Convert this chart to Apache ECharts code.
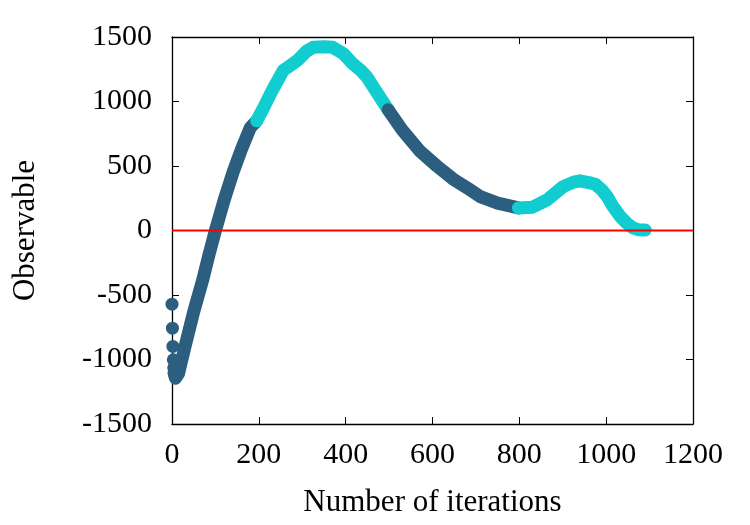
<!DOCTYPE html>
<html>
<head>
<meta charset="utf-8">
<script src="https://cdn.jsdelivr.net/npm/echarts@6/dist/echarts.min.js"></script>
<style>
html, body { margin: 0; padding: 0; background: #fff; }
#chart { width: 750px; height: 525px; }
</style>
</head>
<body>
<div id="chart"></div>
<script>
// first iterations, plotted as separate dots
const startDots = [[0, -571], [1, -757], [2, -899], [3, -1002], [4, -1064], [5, -1105]];
// dark stretch 1
const darkA = [[5, -1110], [8, -1145], [15, -1110], [30, -900], [50, -630], [71, -380], [85, -190], [100, 0],
  [120, 235], [140, 445], [160, 630], [180, 795], [195, 850]];
// cyan stretch 1
const cyanA = [[195, 850], [210, 945], [230, 1080], [256, 1240], [275, 1285], [290, 1322], [310, 1390], [325, 1420],
  [350, 1425], [370, 1420], [395, 1370], [417, 1290], [435, 1240], [449, 1190], [470, 1080], [498, 935]];
// dark stretch 2
const darkB = [[498, 935], [530, 780], [571, 615], [610, 500], [647, 400], [680, 330], [710, 262], [750, 212], [798, 175]];
// cyan stretch 2
const cyanB = [[798, 175], [830, 180], [863, 235], [901, 340], [925, 375], [940, 385], [960, 372], [975, 358],
  [990, 315], [1002, 265], [1015, 190], [1032, 110], [1048, 55], [1062, 20], [1075, 5], [1090, 4]];
const zeroLine = [[0, 0], [1200, 0]];

const dark = '#2b5e7f';
const cyan = '#12cdd0';
const font = 'Liberation Serif';
const fs = 30;

const chart = echarts.init(document.getElementById('chart'));

function thick(data, color) {
  return {
    type: 'line',
    data: data,
    showSymbol: false,
    lineStyle: { color: color, width: 13, cap: 'round', join: 'round' },
    z: 2
  };
}

const tickStyle = { show: true, inside: true, length: 7, lineStyle: { color: '#000', width: 1 } };
const lineStyle = { show: true, onZero: false, lineStyle: { color: '#000', width: 1.3 } };
const plain = v => String(v);

chart.setOption({
  animation: false,
  grid: { left: 172, right: 57, top: 37, bottom: 101 },
  xAxis: [{
    type: 'value',
    min: 0,
    max: 1200,
    interval: 200,
    name: 'Number of iterations',
    nameLocation: 'middle',
    nameGap: 63,
    nameTextStyle: { fontFamily: font, fontSize: 31, color: '#000' },
    axisLine: lineStyle,
    axisTick: tickStyle,
    splitLine: { show: false },
    axisLabel: { fontFamily: font, fontSize: fs, color: '#000', margin: 16, formatter: plain }
  }, {
    type: 'value',
    position: 'top',
    min: 0,
    max: 1200,
    interval: 200,
    axisLine: lineStyle,
    axisTick: tickStyle,
    splitLine: { show: false },
    axisLabel: { show: false }
  }],
  yAxis: [{
    type: 'value',
    min: -1500,
    max: 1500,
    interval: 500,
    name: 'Observable',
    nameLocation: 'middle',
    nameGap: 131,
    nameRotate: 90,
    nameTextStyle: { fontFamily: font, fontSize: 31, color: '#000' },
    axisLine: lineStyle,
    axisTick: tickStyle,
    splitLine: { show: false },
    axisLabel: { fontFamily: font, fontSize: fs, color: '#000', margin: 20, formatter: plain }
  }, {
    type: 'value',
    position: 'right',
    min: -1500,
    max: 1500,
    interval: 500,
    axisLine: lineStyle,
    axisTick: tickStyle,
    splitLine: { show: false },
    axisLabel: { show: false }
  }],
  series: [
    {
      type: 'scatter',
      data: startDots,
      symbol: 'circle',
      symbolSize: 13,
      itemStyle: { color: dark, opacity: 1 },
      z: 2
    },
    thick(darkA, dark),
    thick(cyanA, cyan),
    thick(darkB, dark),
    thick(cyanB, cyan),
    {
      type: 'line',
      data: zeroLine,
      showSymbol: false,
      lineStyle: { color: '#ff0000', width: 2 },
      z: 3
    }
  ]
});
</script>
</body>
</html>
